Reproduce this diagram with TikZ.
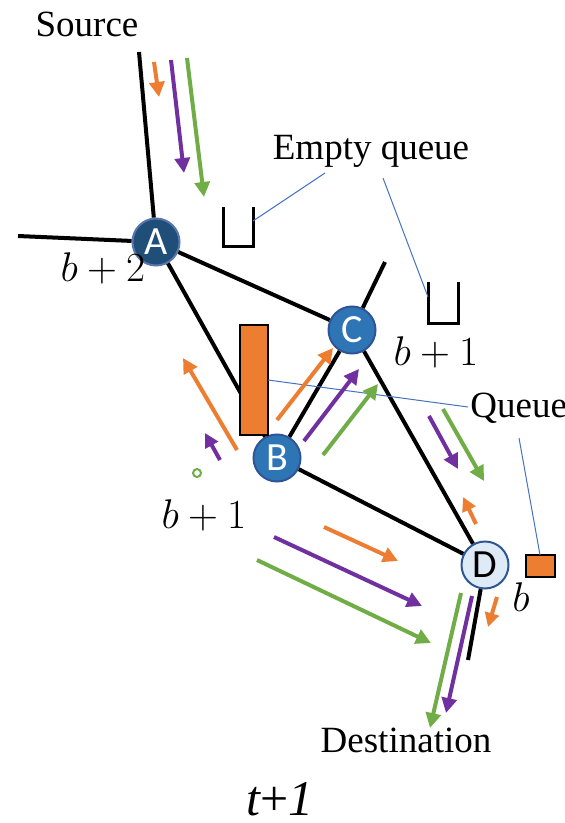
\documentclass[tikz,border=0pt]{standalone}
\usepackage{fontspec}
\setmainfont{Liberation Serif}
\newfontfamily\nodefont{Carlito}
\usetikzlibrary{arrows.meta}
\definecolor{cOrange}{HTML}{ED7D31}
\definecolor{cPurple}{HTML}{7030A0}
\definecolor{cGreen}{HTML}{70AD47}
\definecolor{cNavy}{HTML}{1F4E79}
\definecolor{cMid}{HTML}{2E75B6}
\definecolor{cBorder}{HTML}{2F5597}
\definecolor{cLight}{HTML}{DEEBF7}
\definecolor{cCallout}{HTML}{4472C4}
\tikzset{
  x=0.5pt, y=-0.5pt,
  circ/.style={circle, minimum size=23.5pt, inner sep=0pt, line width=1pt, draw=cBorder,
    font=\nodefont\fontsize{20pt}{20pt}\selectfont},
  edge/.style={line width=2pt, black},
  arr/.style={line width=2pt, -{Triangle[length=7.5pt, width=7.5pt]}},
  sarr/.style={line width=2pt, -{Triangle[length=7pt, width=7pt]}},
  qbox/.style={draw=black, line width=1pt, fill=cOrange, inner sep=0pt},
  ubox/.style={line width=1.5pt, black},
  callout/.style={cCallout, line width=0.5pt},
  lbl/.style={font=\fontsize{18.5pt}{20pt}\selectfont, inner sep=0pt, anchor=base},
  mlbl/.style={font=\fontsize{21pt}{22pt}\selectfont, inner sep=0pt, anchor=base},
}
\begin{document}
\begin{tikzpicture}
\useasboundingbox (0,0) rectangle (564,823);
% nodes
\node[circ, fill=cNavy, draw=cBorder!80!white, text=white] (A) at (156,242) {A};
\node[circ, fill=cMid, text=white] (B) at (277,458) {B};
\node[circ, fill=cMid, text=white] (C) at (352,330) {C};
\node[circ, fill=cLight, text=black] (D) at (485,565) {D};
\coordinate (src) at (139,52);
\coordinate (left) at (18,236);
\coordinate (cup) at (385,262);
\coordinate (ddown) at (468,660);
% black edges
\draw[edge] (src) -- (A);
\draw[edge] (left) -- (A);
\draw[edge] (A) -- (C);
\draw[edge] (A) -- (B);
\draw[edge] (B) -- (C);
\draw[edge] (B) -- (D);
\draw[edge] (C) -- (D);
\draw[edge] (C) -- (cup);
\draw[edge] (D) -- (ddown);
% queues
\node[qbox, minimum width=14pt, minimum height=55pt] (Q1) at (254,379.5) {};
\node[qbox, minimum width=14.5pt, minimum height=11pt] (Q2) at (540.5,566) {};
\coordinate (E1a) at (223,207); \coordinate (E1b) at (223,247);
\coordinate (E1c) at (253,247); \coordinate (E1d) at (253,207);
\draw[ubox] (E1a) -- (E1b) -- (E1c) -- (E1d);
\coordinate (E2a) at (428,282); \coordinate (E2b) at (428,323);
\coordinate (E2c) at (458,323); \coordinate (E2d) at (458,282);
\draw[ubox] (E2a) -- (E2b) -- (E2c) -- (E2d);
% labels
\node[lbl] (Source) at (87,37) {Source};
\node[lbl] (EQ) at (371,160) {Empty queue};
\node[lbl, anchor=base west] (QL) at (470,417) {Queue};
\node[lbl] (Dest) at (406,752) {Destination};
\node[lbl, font=\fontsize{25pt}{26pt}\selectfont] (T) at (280,815) {\itshape t\upshape+\itshape 1};
\node[mlbl] (bA) at (103,282) {$b+2$};
\node[mlbl] (bC) at (436,365) {$b+1$};
\node[mlbl] (bB) at (204,528) {$b+1$};
\node[mlbl] (bD) at (521,611) {$b$};
% callouts
\draw[callout] (325,173) -- (E1d |- 0,221);
\draw[callout] (383,178) -- (428,297);
\draw[callout] (268,380) -- (468,407);
\draw[callout] (519,438) -- (540,555);
% flow arrows near source
\draw[arr, cOrange] (154,62) -- (159,97);
\draw[arr, cPurple] (171,60) -- (184,173);
\draw[arr, cGreen] (187,58) -- (204,197);
% around B
\draw[arr, cOrange] (237,450) -- (183,358);
\draw[sarr, cPurple] (220,460) -- (205,433);
\draw[cGreen, line width=1pt] (197,473) circle (2pt);
\draw[arr, cOrange] (277,420) -- (333,348);
\draw[arr, cPurple] (304,441) -- (359,369);
\draw[arr, cGreen] (323,455) -- (378,384);
% C to D
\draw[arr, cPurple] (429,416) -- (458,469);
\draw[arr, cGreen] (443,409) -- (484,481);
\draw[sarr, cOrange] (476,524) -- (463,497);
% B to D
\draw[arr, cOrange] (324,527) -- (398,561);
\draw[arr, cPurple] (274,537) -- (422,606);
\draw[arr, cGreen] (257,560) -- (431,643);
% below D
\draw[arr, cGreen] (461,593) -- (430,728);
\draw[arr, cPurple] (472,596) -- (446,713);
\draw[sarr, cOrange] (497,597) -- (488,627);
\end{tikzpicture}
\end{document}
